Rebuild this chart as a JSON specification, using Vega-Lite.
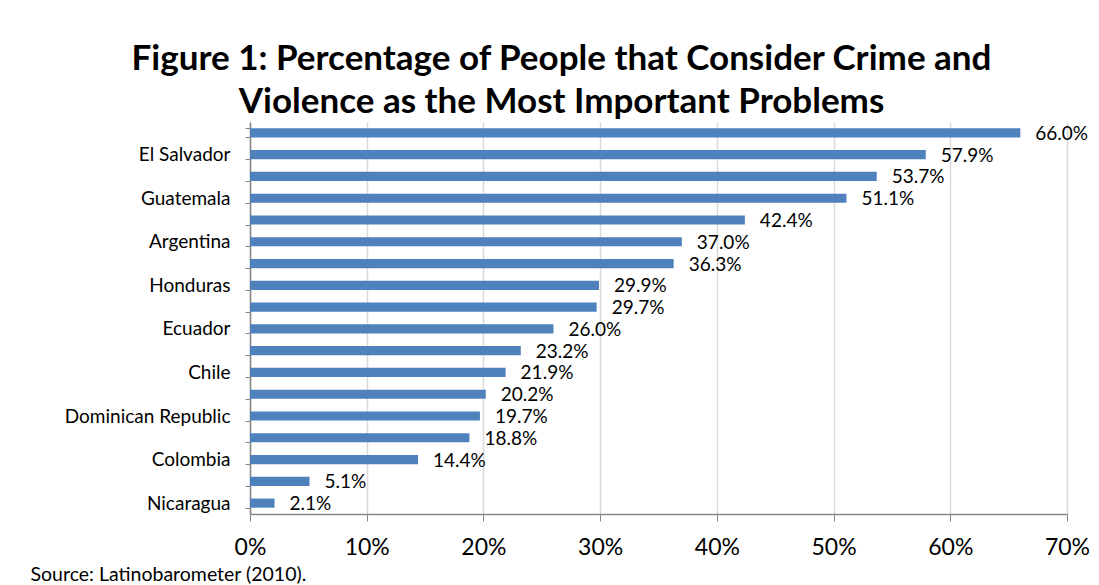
{
  "$schema": "https://vega.github.io/schema/vega-lite/v6.json",
  "width": 817,
  "height": 392,
  "autosize": {"type": "none"},
  "padding": {"left": 250, "top": 122, "right": 32, "bottom": 71},
  "background": "white",
  "title": {
    "text": ["Figure 1: Percentage of People that Consider Crime and", "Violence as the Most Important Problems"],
    "font": "Lato",
    "fontSize": 35,
    "fontWeight": "bold",
    "color": "#000000",
    "anchor": "middle",
    "frame": "group",
    "dx": -97,
    "offset": -7,
    "lineHeight": 43
  },
  "data": {
    "values": [
      {"country": "_1", "value": 0.660},
      {"country": "El Salvador", "value": 0.579},
      {"country": "_3", "value": 0.537},
      {"country": "Guatemala", "value": 0.511},
      {"country": "_5", "value": 0.424},
      {"country": "Argentina", "value": 0.370},
      {"country": "_7", "value": 0.363},
      {"country": "Honduras", "value": 0.299},
      {"country": "_9", "value": 0.297},
      {"country": "Ecuador", "value": 0.260},
      {"country": "_11", "value": 0.232},
      {"country": "Chile", "value": 0.219},
      {"country": "_13", "value": 0.202},
      {"country": "Dominican Republic", "value": 0.197},
      {"country": "_15", "value": 0.188},
      {"country": "Colombia", "value": 0.144},
      {"country": "_17", "value": 0.051},
      {"country": "Nicaragua", "value": 0.021}
    ]
  },
  "encoding": {
    "y": {
      "field": "country",
      "type": "nominal",
      "sort": null,
      "scale": {"paddingInner": 0.58, "paddingOuter": 0.29},
      "axis": {
        "title": null,
        "labelExpr": "isString(datum.value) && indexof(datum.value, '_') != 0 ? datum.value : ''",
        "labelFont": "Lato",
        "labelFontSize": 19,
        "labelColor": "#000000",
        "labelPadding": 15,
        "tickBand": "extent",
        "tickSize": 5,
        "tickColor": "#868686",
        "domainColor": "#868686",
        "domainWidth": 1.5,
        "grid": false
      }
    },
    "x": {
      "field": "value",
      "type": "quantitative",
      "scale": {"domain": [0, 0.7], "nice": false},
      "axis": {
        "format": ".0%",
        "values": [0, 0.1, 0.2, 0.3, 0.4, 0.5, 0.6, 0.7],
        "labelFlush": false,
        "labelFont": "Lato",
        "labelFontSize": 23,
        "labelColor": "#000000",
        "labelPadding": 15,
        "tickSize": 7,
        "tickColor": "#868686",
        "domainColor": "#868686",
        "domainWidth": 1.5,
        "grid": true,
        "gridColor": "#d9d9d9",
        "gridWidth": 1.5,
        "title": "Source: Latinobarometer (2010).",
        "titleFont": "Lato",
        "titleFontSize": 19.5,
        "titleFontWeight": "normal",
        "titleColor": "#000000",
        "titleAnchor": "start",
        "titleAlign": "left",
        "titleBaseline": "alphabetic",
        "titleX": -220,
        "titleY": 66
      }
    }
  },
  "layer": [
    {"mark": {"type": "bar", "color": "#4f81bd"}},
    {
      "mark": {"type": "text", "align": "left", "baseline": "middle", "dx": 15, "dy": 1, "font": "Lato", "fontSize": 19, "color": "#000000"},
      "encoding": {"text": {"field": "value", "type": "quantitative", "format": ".1%"}}
    }
  ],
  "config": {"view": {"stroke": null}}
}
